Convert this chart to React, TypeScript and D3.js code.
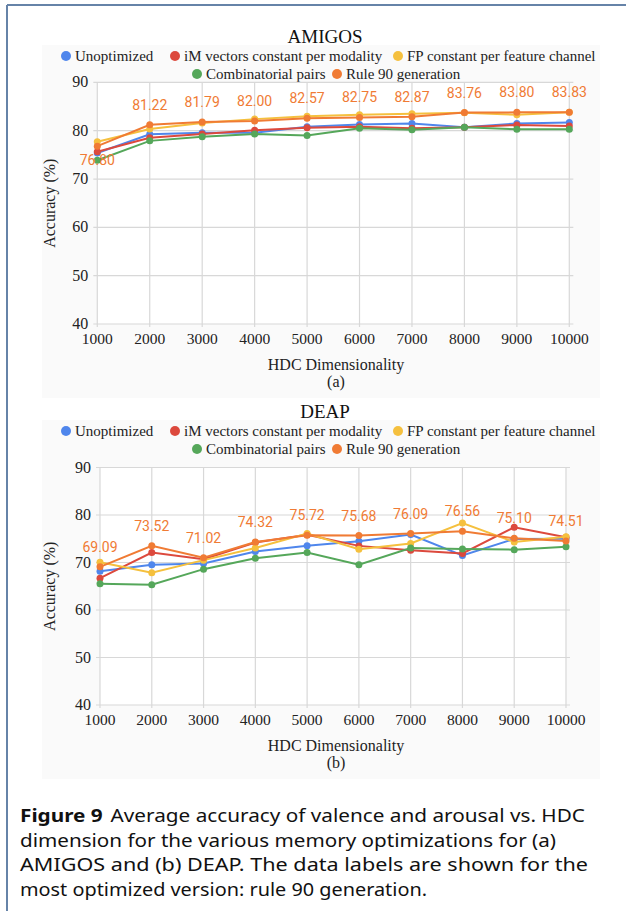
import React from "react";
import * as d3 from "d3";

const dims = [1000, 2000, 3000, 4000, 5000, 6000, 7000, 8000, 9000, 10000];
const yTicks = [40, 50, 60, 70, 80, 90];
const seriesNames = [
  "Unoptimized",
  "iM vectors constant per modality",
  "FP constant per feature channel",
  "Combinatorial pairs",
  "Rule 90 generation",
];
const seriesColors = ["#4f86ec", "#dc493d", "#f5c03e", "#55a75a", "#f07b34"];

// AMIGOS
const amigosUnopt = [75.4, 79.25, 79.6, 79.6, 80.8, 81.3, 81.5, 80.7, 81.5, 81.7];
const amigosIM = [75.65, 78.55, 79.3, 80.1, 80.6, 80.8, 80.5, 80.7, 81.2, 81.0];
const amigosFP = [77.7, 80.35, 81.6, 82.4, 83.0, 83.3, 83.5, 83.7, 83.3, 83.8];
const amigosComb = [73.9, 77.9, 78.75, 79.3, 79.0, 80.5, 80.2, 80.7, 80.3, 80.3];
const amigosRule90 = [76.8, 81.22, 81.79, 82.0, 82.57, 82.75, 82.87, 83.76, 83.8, 83.83];

// DEAP
const deapUnopt = [68.15, 69.55, 69.8, 72.3, 73.55, 74.45, 75.9, 71.5, 74.95, 75.0];
const deapIM = [66.7, 72.1, 70.7, 74.2, 75.85, 73.5, 72.6, 71.9, 77.4, 75.3];
const deapFP = [70.04, 67.85, 70.5, 73.05, 76.1, 72.8, 74.0, 78.3, 74.3, 75.4];
const deapComb = [65.55, 65.3, 68.6, 70.9, 72.1, 69.55, 73.05, 72.85, 72.7, 73.3];
const deapRule90 = [69.09, 73.52, 71.02, 74.32, 75.72, 75.68, 76.09, 76.56, 75.1, 74.51];

const SERIF = "'Liberation Serif', 'Times New Roman', serif";
const SANS = "Roboto, 'Noto Sans', sans-serif";

type ChartProps = {
  title: string;
  sub: string;
  series: number[][];
  top: number;
  x0: number;
  x1: number;
  yTop: number;
  yBot: number;
  belowLabels: number[];
};

function Chart({ title, sub, series, top, x0, x1, yTop, yBot, belowLabels }: ChartProps) {
  const x = d3.scaleLinear().domain([1000, 10000]).range([x0, x1]);
  const y = d3.scaleLinear().domain([40, 90]).range([yBot, yTop]);
  const line = d3
    .line<number>()
    .x((_, i) => x(dims[i]))
    .y((v) => y(v));
  const legendRow1 = top + 19;
  const legendRow2 = top + 37;
  const legendItems = [
    { i: 0, cx: 66, cy: legendRow1 },
    { i: 1, cx: 175, cy: legendRow1 },
    { i: 2, cx: 398, cy: legendRow1 },
    { i: 3, cx: 197, cy: legendRow2 },
    { i: 4, cx: 337, cy: legendRow2 },
  ];
  const rule = series[4];
  return (
    <g>
      <rect x={42} y={top + 8} width={558} height={yBot - top + 66} fill="#fafafa" />
      <rect x={x0} y={yTop} width={x1 - x0} height={yBot - yTop} fill="#ffffff" />
      <text x={325} y={top + 6} textAnchor="middle" fontFamily={SERIF} fontSize={19} fill="#111">
        {title}
      </text>
      {legendItems.map((it) => (
        <g key={it.i}>
          <circle cx={it.cx} cy={it.cy} r={5} fill={seriesColors[it.i]} />
          <text x={it.cx + 9} y={it.cy + 5} fontFamily={SERIF} fontSize={15} fill="#222">
            {seriesNames[it.i]}
          </text>
        </g>
      ))}
      {yTicks.map((t) => (
        <g key={t}>
          <line x1={x0 - 4} x2={x1 + 4} y1={y(t)} y2={y(t)} stroke="#d8d8d8" strokeWidth={1.2} />
          <text x={x0 - 9} y={y(t) + 5} textAnchor="end" fontFamily={SERIF} fontSize={16} fill="#222">
            {t}
          </text>
        </g>
      ))}
      {dims.map((d) => (
        <g key={d}>
          <line x1={x(d)} x2={x(d)} y1={yTop} y2={yBot + 3} stroke="#d8d8d8" strokeWidth={1.2} />
          <text x={x(d)} y={yBot + 20} textAnchor="middle" fontFamily={SERIF} fontSize={15.5} fill="#222">
            {d}
          </text>
        </g>
      ))}
      <text
        transform={`translate(${55},${(yTop + yBot) / 2}) rotate(-90)`}
        textAnchor="middle"
        fontFamily={SERIF}
        fontSize={16}
        fill="#222"
      >
        Accuracy (%)
      </text>
      <text x={336} y={yBot + 46} textAnchor="middle" fontFamily={SERIF} fontSize={16} fill="#222">
        HDC Dimensionality
      </text>
      <text x={336} y={yBot + 63} textAnchor="middle" fontFamily={SERIF} fontSize={16} fill="#222">
        {sub}
      </text>
      {series.map((s, si) => (
        <g key={si}>
          <path d={line(s) || ""} fill="none" stroke={seriesColors[si]} strokeWidth={2} />
          {s.map((v, i) => (
            <circle key={i} cx={x(dims[i])} cy={y(v)} r={3.5} fill={seriesColors[si]} />
          ))}
        </g>
      ))}
      {rule.map((v, i) => (
        <text
          key={i}
          x={x(dims[i])}
          y={belowLabels.includes(i) ? y(v) + 19 : y(v) - 15}
          textAnchor="middle"
          fontFamily={SANS}
          fontSize={14}
          fill="#f07b34"
        >
          {v.toFixed(2)}
        </text>
      ))}
    </g>
  );
}

const captionLines = [
  "Average accuracy of valence and arousal vs. HDC",
  "dimension for the various memory optimizations for (a)",
  "AMIGOS and (b) DEAP. The data labels are shown for the",
  "most optimized version: rule 90 generation.",
];
const captionWidths = [565, 536, 568, 407];

export default function App() {
  const CAP = "'Noto Sans', 'DejaVu Sans', sans-serif";
  return (
    <svg width={626} height={911} style={{ position: "absolute", left: 0, top: 0, background: "#fff" }}>
      <rect x={0} y={0} width={626} height={911} fill="#ffffff" />
      <line x1={7} x2={626} y1={5} y2={5} stroke="#6683a8" strokeWidth={2} />
      <line x1={7} x2={7} y1={5} y2={911} stroke="#6683a8" strokeWidth={2} />
      <Chart
        title="AMIGOS"
        sub="(a)"
        series={[amigosUnopt, amigosIM, amigosFP, amigosComb, amigosRule90]}
        top={37}
        x0={97.3}
        x1={569.3}
        yTop={82.4}
        yBot={324}
        belowLabels={[0]}
      />
      <Chart
        title="DEAP"
        sub="(b)"
        series={[deapUnopt, deapIM, deapFP, deapComb, deapRule90]}
        top={412}
        x0={100}
        x1={566}
        yTop={467.5}
        yBot={705}
        belowLabels={[]}
      />
      <text
        x={20}
        y={822}
        fontFamily={CAP}
        fontSize={18.5}
        fill="#111"
        textLength={captionWidths[0]}
        lengthAdjust="spacingAndGlyphs"
      >
        <tspan fontWeight="bold">Figure 9</tspan>
        <tspan dx={7}>{captionLines[0]}</tspan>
      </text>
      {captionLines.slice(1).map((l, i) => (
        <text
          key={i}
          x={20}
          y={846.5 + i * 24.5}
          fontFamily={CAP}
          fontSize={18.5}
          fill="#111"
          textLength={captionWidths[i + 1]}
          lengthAdjust="spacingAndGlyphs"
        >
          {l}
        </text>
      ))}
    </svg>
  );
}
